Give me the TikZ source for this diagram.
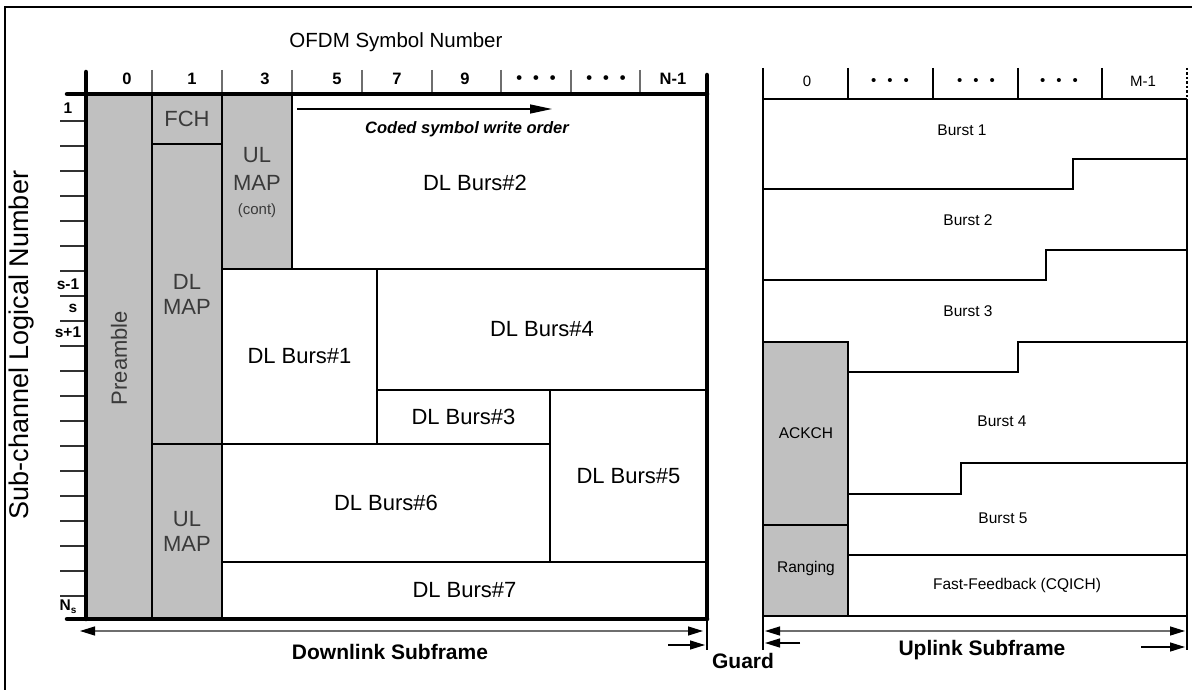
\documentclass[tikz,border=0pt]{standalone}
\usepackage{fontspec}
\setmainfont{Liberation Sans}
\usetikzlibrary{arrows.meta}
\definecolor{boxgray}{HTML}{C0C0C0}
\definecolor{txtgray}{HTML}{3A3A3A}
\definecolor{linegray}{HTML}{6E6E6E}
\newcommand{\fsz}[2]{\fontsize{#1}{#2}\selectfont}
\newcommand{\threedots}{•\hspace{11pt}•\hspace{11pt}•}
\begin{document}
\begin{tikzpicture}[x=1pt,y=-1pt,
  box/.style={draw=black, line width=2.3pt, inner sep=0pt, outer sep=0pt, anchor=north west, font=\fsz{22}{25}, align=center},
  gbox/.style={box, fill=boxgray, text=txtgray},
  thickline/.style={line width=4.5pt, line cap=round},
  hdr/.style={font=\bfseries\fsz{16.5}{19}},
  rhdr/.style={font=\fsz{15}{18}},
  sep/.style={draw=linegray, line width=1.2pt},
  rsep/.style={draw=black, line width=1.2pt},
  tick/.style={draw=black!80, line width=1.5pt},
  rowlab/.style={font=\bfseries\fsz{15.5}{17}},
  rline/.style={draw=black, line width=2.5pt},
  stepline/.style={draw=black, line width=2pt},
  rtxt/.style={font=\fsz{15.5}{18}},
  rgbox/.style={draw=black, line width=2.5pt, fill=boxgray, inner sep=0pt, outer sep=0pt, anchor=north west, font=\fsz{15}{18}, text=black},
  dimarrow/.style={draw=linegray, line width=1.3pt, {Triangle[length=15pt,width=9pt,color=black]}-{Triangle[length=15pt,width=9pt,color=black]}},
  onearrow/.style={draw=black, line width=1.3pt, -{Triangle[length=15pt,width=9pt]}},
  guide/.style={draw=black, line width=1.3pt},
  sublab/.style={font=\bfseries\fsz{21}{24}}
]
\useasboundingbox (0,0) rectangle (1192,690);
% outer frame
\draw[line width=1.5pt] (5,700) -- (5,7) -- (1200,7);

% titles
\node[font=\fsz{20.5}{24}] (title) at (396,42) {OFDM Symbol Number};
\node[font=\fsz{27}{30}, rotate=90] (ytitle) at (22,345) {Sub-channel Logical Number};

% ---------------- Downlink boxes ----------------
\node[gbox, minimum width=66pt, minimum height=525pt] (pre) at (86,94) {};
\node[font=\fsz{22}{25}, text=txtgray, rotate=90] (pretxt) at (119,358) {Preamble};
\node[gbox, minimum width=70pt, minimum height=50pt] (fch) at (152,94) {FCH};
\node[gbox, minimum width=70pt, minimum height=300pt] (dlmap) at (152,144) {DL\\MAP};
\node[gbox, minimum width=70pt, minimum height=175pt] (ulmap) at (152,444) {UL\\MAP};
\node[gbox, minimum width=70pt, minimum height=175pt] (ulmapc) at (222,94) {};
\node[font=\fsz{22}{28}, text=txtgray, align=center] (ulmapctxt) at (257,182) {UL\\MAP\\[-4pt]{\fsz{15}{18}(cont)}};
\node[box, minimum width=415pt, minimum height=175pt] (b2) at (292,94) {};
\node[font=\fsz{22}{25}] (b2txt) at (475,183) {DL Burs\#2};
\node[box, minimum width=155pt, minimum height=175pt] (b1) at (222,269) {DL Burs\#1};
\node[box, minimum width=330pt, minimum height=121pt] (b4) at (377,269) {DL Burs\#4};
\node[box, minimum width=173pt, minimum height=54pt] (b3) at (377,390) {DL Burs\#3};
\node[box, minimum width=157pt, minimum height=172pt] (b5) at (550,390) {DL Burs\#5};
\node[box, minimum width=328pt, minimum height=118pt] (b6) at (222,444) {DL Burs\#6};
\node[box, minimum width=485pt, minimum height=57pt] (b7) at (222,562) {DL Burs\#7};

% coded symbol write order
\coordinate (cs1) at (297,109);
\coordinate (cs2) at (552,109);
\draw[draw=black, line width=1.3pt, -{Triangle[length=22pt,width=9pt]}] (cs1) -- (cs2);
\node[font=\bfseries\itshape\fsz{16.5}{19}] (cstxt) at (467,129) {Coded symbol write order};

% header separators
\foreach \x/\n in {152/a,222/b,292/c,362/d,432/e,501/f,571/g,640/h}{
  \coordinate (hs\n1) at (\x,70);
  \coordinate (hs\n2) at (\x,94);
  \draw[sep] (hs\n1) -- (hs\n2);
}
% header labels
\node[hdr] (h0) at (127,79) {0};
\node[hdr] (h1) at (192,79) {1};
\node[hdr] (h3) at (265,79) {3};
\node[hdr] (h5) at (337,79) {5};
\node[hdr] (h7) at (397,79) {7};
\node[hdr] (h9) at (465,79) {9};
\node[hdr] (hd1) at (536,80) {\threedots};
\node[hdr] (hd2) at (606,80) {\threedots};
\node[hdr] (hn) at (673,79) {N-1};

% row ticks
\foreach \k in {0,...,19}{
  \coordinate (tk\k a) at (60,121+25*\k);
  \coordinate (tk\k b) at (84,121+25*\k);
  \draw[tick] (tk\k a) -- (tk\k b);
}
\node[rowlab] (r1) at (68,108) {1};
\node[rowlab] (rsm) at (68,284) {s-1};
\node[rowlab] (rs) at (73,308) {s};
\node[rowlab] (rsp) at (68,332) {s+1};
\node[rowlab] (rns) at (68,607) {N\raisebox{-3pt}{\fsz{10}{10}s}};

% thick outer lines of downlink
\coordinate (tl) at (67,94);
\coordinate (tr) at (707,94);
\coordinate (lt) at (86,72);
\coordinate (lb) at (86,619);
\coordinate (rt) at (707,75);
\coordinate (rb) at (707,619);
\coordinate (bl) at (67,619);
\draw[thickline] (tl) -- (tr);
\draw[thickline] (lt) -- (lb);
\draw[thickline] (rt) -- (rb);
\draw[thickline] (bl) -- (rb);

% ---------------- Uplink ----------------
\node[rgbox, minimum width=85pt, minimum height=183pt] (ack) at (763,342) {};
\node[font=\fsz{15.5}{18}] (acktxt) at (806,433) {ACKCH};
\node[rgbox, minimum width=85pt, minimum height=91pt] (rng) at (763,525) {};
\node[font=\fsz{15.5}{18}] (rngtxt) at (806,568) {Ranging};

\coordinate (ul0) at (763,68);
\coordinate (ul1) at (763,616);
\coordinate (ur0) at (1187,99);
\coordinate (ur1) at (1187,616);
\coordinate (uh0) at (763,99);
\coordinate (ud0) at (1187,68);
\draw[rline] (ul0) -- (ul1);
\draw[rline] (uh0) -- (ur0);
\draw[rline] (ur0) -- (ur1);
\draw[rline] (ul1) -- (ur1);
\draw[draw=black, line width=2.5pt, dotted] (ud0) -- (ur0);
\foreach \x/\n in {848/a,933/b,1018/c,1102/d}{
  \coordinate (us\n1) at (\x,68);
  \coordinate (us\n2) at (\x,99);
  \draw[rsep] (us\n1) -- (us\n2);
}
\node[rhdr] (u0) at (807,81) {0};
\node[rhdr] (ud1) at (890,82) {\threedots};
\node[rhdr] (ud2) at (976,82) {\threedots};
\node[rhdr] (ud3) at (1059,82) {\threedots};
\node[rhdr] (um) at (1143,81) {M-1};

% burst boundaries
\coordinate (s1a) at (763,189); \coordinate (s1b) at (1073,189);
\coordinate (s1c) at (1073,159); \coordinate (s1d) at (1187,159);
\draw[draw=black, line width=1.4pt] (s1a) -- (s1b) -- (s1c) -- (s1d);
\coordinate (s2a) at (763,280); \coordinate (s2b) at (1046,280);
\coordinate (s2c) at (1046,250); \coordinate (s2d) at (1187,250);
\draw[stepline] (s2a) -- (s2b) -- (s2c) -- (s2d);
\coordinate (s3a) at (848,372); \coordinate (s3b) at (1018,372);
\coordinate (s3c) at (1018,342); \coordinate (s3d) at (1187,342);
\draw[stepline] (s3a) -- (s3b) -- (s3c) -- (s3d);
\coordinate (s4a) at (848,494); \coordinate (s4b) at (961,494);
\coordinate (s4c) at (961,463); \coordinate (s4d) at (1187,463);
\draw[stepline] (s4a) -- (s4b) -- (s4c) -- (s4d);
\coordinate (ffa) at (848,555); \coordinate (ffb) at (1187,555);
\draw[stepline] (ffa) -- (ffb);

\node[rtxt] (bu1) at (962,130) {Burst 1};
\node[rtxt] (bu2) at (968,220) {Burst 2};
\node[rtxt] (bu3) at (968,311) {Burst 3};
\node[rtxt] (bu4) at (1002,421) {Burst 4};
\node[rtxt] (bu5) at (1003,518) {Burst 5};
\node[rtxt] (ff) at (1017,585) {Fast-Feedback (CQICH)};

% ---------------- bottom dimension arrows ----------------
\coordinate (dla) at (80,631);
\coordinate (dlb) at (703,631);
\draw[dimarrow] (dla) -- (dlb);
\coordinate (g1a) at (707,619); \coordinate (g1b) at (707,650);
\draw[guide] (g1a) -- (g1b);
\coordinate (g2a) at (763,616); \coordinate (g2b) at (763,650);
\draw[guide] (g2a) -- (g2b);
\coordinate (g3a) at (1187,616); \coordinate (g3b) at (1187,650);
\draw[guide] (g3a) -- (g3b);
\coordinate (gaa) at (668,645); \coordinate (gab) at (705,645);
\draw[onearrow] (gaa) -- (gab);
\coordinate (gba) at (800,643); \coordinate (gbb) at (765,643);
\draw[onearrow] (gba) -- (gbb);
\coordinate (ula) at (765,631); \coordinate (ulb) at (1185,631);
\draw[dimarrow] (ula) -- (ulb);
\coordinate (uea) at (1141,647); \coordinate (ueb) at (1185,647);
\draw[onearrow] (uea) -- (ueb);

\node[sublab] (dltxt) at (390,652) {Downlink Subframe};
\node[sublab] (ultxt) at (982,650) {Uplink Subframe};
\node[font=\bfseries\fsz{21}{24}] (guard) at (743,661) {Guard};
\end{tikzpicture}
\end{document}
